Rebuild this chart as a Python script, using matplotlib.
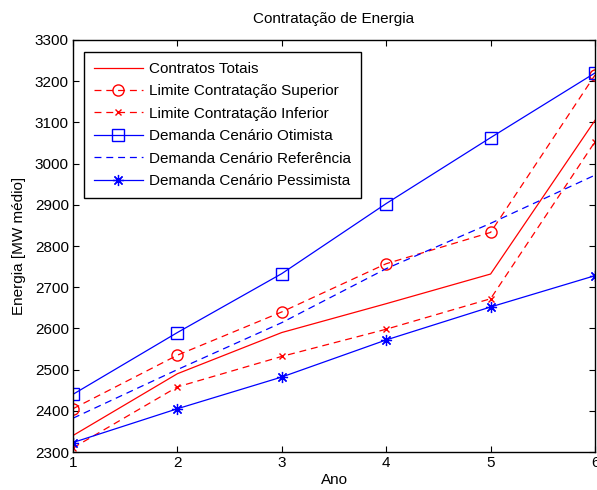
import numpy as np
import matplotlib
matplotlib.use('Agg')
import matplotlib.pyplot as plt

plt.rcParams['font.family'] = ['Liberation Sans', 'DejaVu Sans']
plt.rcParams['lines.scale_dashes'] = False

anos = [1, 2, 3, 4, 5, 6]
contratos_totais = [2340, 2490, 2590, 2660, 2732, 3105]
limite_superior = [2405, 2535, 2640, 2757, 2833, 3215]
limite_inferior = [2310, 2458, 2532, 2598, 2672, 3053]
demanda_otimista = [2440, 2590, 2733, 2903, 3063, 3220]
demanda_referencia = [2382, 2500, 2614, 2745, 2855, 2972]
demanda_pessimista = [2323, 2405, 2482, 2572, 2652, 2728]

fig = plt.figure(figsize=(5.97, 4.9), dpi=100)
ax = fig.add_axes([73 / 597, 38 / 490, 522 / 597, 412 / 490])

red = '#ff0000'
blue = '#0000ff'
dash = (5, 3.5)
ax.plot(anos, contratos_totais, '-', color=red, lw=0.9, label='Contratos Totais')
ax.plot(anos, limite_superior, '--', color=red, lw=0.9, dashes=dash, marker='o', ms=8,
        mfc='none', label='Limite Contratação Superior')
ax.plot(anos, limite_inferior, '--', color=red, lw=0.9, dashes=dash, marker='x', ms=5,
        label='Limite Contratação Inferior')
ax.plot(anos, demanda_otimista, '-', color=blue, lw=0.9, marker='s', ms=8,
        mfc='none', label='Demanda Cenário Otimista')
ax.plot(anos, demanda_referencia, '--', color=blue, lw=0.9, dashes=dash,
        label='Demanda Cenário Referência')
ax.plot(anos, demanda_pessimista, '-', color=blue, lw=0.9, marker=(8, 2, 0), ms=8,
        mew=0.9, label='Demanda Cenário Pessimista')

ax.set_xlim(1, 6)
ax.set_ylim(2300, 3300)
ax.set_xticks(anos)
ax.set_yticks(np.arange(2300, 3301, 100))
ax.tick_params(direction='in', length=4, labelsize=11, top=True, right=True, pad=3)
for s in ax.spines.values():
    s.set_linewidth(1.0)

ax.set_title('Contratação de Energia', fontsize=11, pad=12)
ax.set_xlabel('Ano', fontsize=11, labelpad=2)
ax.set_ylabel('Energia [MW médio]', fontsize=11, labelpad=6)

leg = ax.legend(loc='upper left', bbox_to_anchor=(84 / 597, 1 - 52 / 490),
                bbox_transform=fig.transFigure, borderaxespad=0, fontsize=11,
                fancybox=False, edgecolor='black', framealpha=1,
                handlelength=3.2, handletextpad=0.4, labelspacing=0.55,
                borderpad=0.65)
leg.get_frame().set_linewidth(1.0)

fig.savefig('out.png', dpi=100)
